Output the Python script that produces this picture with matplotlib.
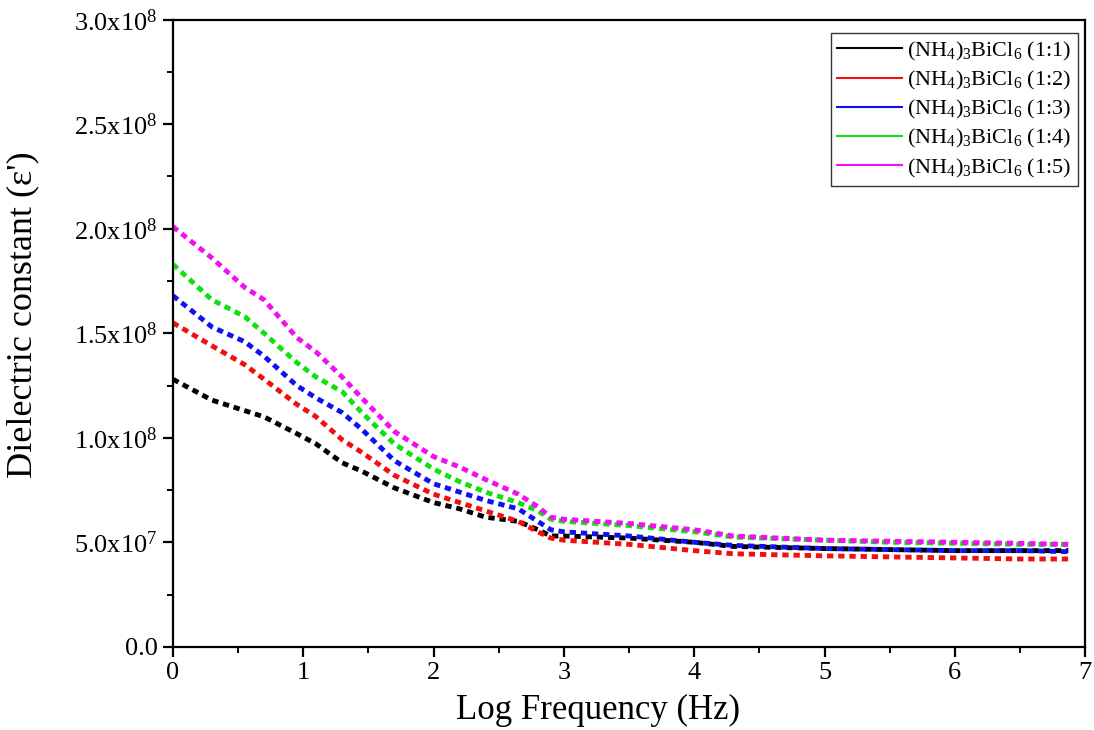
import numpy as np
import matplotlib
matplotlib.use('Agg')
import matplotlib.pyplot as plt
from matplotlib.ticker import MultipleLocator, FuncFormatter

plt.rcParams['font.family'] = ['Liberation Serif', 'DejaVu Serif']
plt.rcParams['mathtext.fontset'] = 'custom'
plt.rcParams['mathtext.rm'] = 'Liberation Serif'
plt.rcParams['mathtext.it'] = 'Liberation Serif:italic'
plt.rcParams['mathtext.bf'] = 'Liberation Serif:bold'

# log frequency (Hz)
logf = np.array([0, 0.3, 0.55, 0.7, 0.95, 1.1, 1.3, 1.45, 1.7, 2.0, 2.2, 2.4,
                 2.65, 2.8, 2.9, 3.0, 3.5, 4.0, 4.3, 5.0, 5.5, 6.0, 6.5, 6.87])

# dielectric constant, units of 1e7
eps_11 = [12.8, 11.8, 11.3, 11.0, 10.2, 9.7, 8.8, 8.4, 7.6, 6.9, 6.6, 6.2,
          6.0, 5.6, 5.3, 5.3, 5.2, 5.0, 4.8, 4.7, 4.65, 4.6, 4.6, 4.6]
eps_12 = [15.5, 14.4, 13.5, 12.8, 11.6, 11.0, 9.9, 9.3, 8.2, 7.3, 6.9, 6.5,
          6.0, 5.5, 5.2, 5.1, 4.9, 4.6, 4.45, 4.35, 4.3, 4.25, 4.2, 4.2]
eps_13 = [16.8, 15.3, 14.6, 13.9, 12.5, 11.9, 11.2, 10.4, 8.9, 7.8, 7.4, 7.0,
          6.6, 6.0, 5.6, 5.5, 5.3, 5.0, 4.85, 4.7, 4.65, 4.6, 4.6, 4.55]
eps_14 = [18.3, 16.6, 15.8, 15.0, 13.6, 12.9, 12.2, 11.2, 9.7, 8.5, 7.9, 7.4,
          6.9, 6.5, 6.1, 6.0, 5.8, 5.5, 5.25, 5.1, 5.0, 4.95, 4.9, 4.9]
eps_15 = [20.1, 18.6, 17.2, 16.6, 14.8, 14.1, 12.9, 11.9, 10.3, 9.1, 8.6, 8.0,
          7.3, 6.7, 6.2, 6.1, 5.9, 5.6, 5.3, 5.1, 5.05, 5.0, 4.95, 4.9]

ratios = ['1:1', '1:2', '1:3', '1:4', '1:5']
series = [eps_11, eps_12, eps_13, eps_14, eps_15]
colors = ['black', '#f01010', '#1010f0', '#10e010', '#f010f0']


def sci_fmt(v, pos):
    if v == 0:
        return '0.0'
    e = int(np.floor(np.log10(abs(v)) + 1e-9))
    m = v / 10**e
    return r'$\mathregular{%.1fx10^{%d}}$' % (m, e)


fig = plt.figure(figsize=(10.94, 7.3), dpi=100)
ax = fig.add_axes([0.158, 0.114, 0.834, 0.859])

for y, c in zip(series, colors):
    ax.plot(logf, np.array(y) * 1e7, color=c, lw=3.5, dashes=(1.3, 1.0))

for r, c in zip(ratios, colors):
    ax.plot([], [], color=c, lw=1.5, label=r'(NH$_4$)$_3$BiCl$_6$ (%s)' % r)

ax.set_xlim(0, 7)
ax.set_ylim(0, 3e8)
ax.xaxis.set_major_locator(MultipleLocator(1))
ax.xaxis.set_minor_locator(MultipleLocator(0.5))
ax.yaxis.set_major_locator(MultipleLocator(5e7))
ax.yaxis.set_minor_locator(MultipleLocator(2.5e7))
ax.yaxis.set_major_formatter(FuncFormatter(sci_fmt))

for s in ax.spines.values():
    s.set_linewidth(1.6)
ax.tick_params(which='major', direction='out', length=7, width=1.6, labelsize=19, pad=4)
ax.tick_params(which='minor', direction='out', length=4, width=1.4)

ax.set_xlabel('Log Frequency (Hz)', fontsize=25)
ax.set_ylabel("Dielectric constant (ε')", fontsize=26)
ax.xaxis.set_label_coords(0.466, -0.075)
ax.yaxis.set_label_coords(-0.146, 0.53)

leg = ax.legend(loc='upper right', bbox_to_anchor=(0.9923, 0.979), fontsize=16,
                frameon=True, fancybox=False, edgecolor='black',
                handlelength=2.9, handletextpad=0.25, labelspacing=0.28,
                borderaxespad=0, borderpad=0.3)
leg.get_frame().set_linewidth(1.0)

plt.savefig('out.png', dpi=100)
plt.close()
